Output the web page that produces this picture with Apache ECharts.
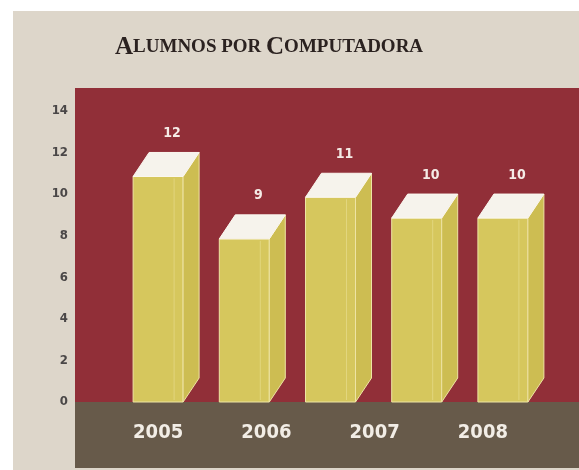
<!DOCTYPE html>
<html>
<head>
<meta charset="utf-8">
<script src="https://cdn.jsdelivr.net/npm/echarts@6/dist/echarts.min.js"></script>
<style>
  html, body { margin: 0; padding: 0; background: #ffffff; }
  #ech { width: 579px; height: 470px; }
</style>
</head>
<body>
<div id="ech"></div>
<script>
var yearLabels = ['2005', '2006', '2007', '2008'];
var values = [12, 9, 11, 10, 10];
var yTicks = [0, 2, 4, 6, 8, 10, 12, 14];

var myChart = echarts.init(document.getElementById('ech'));

var W = 50, DX = 16, DY = 24;
var narrow = '"DejaVu Sans Condensed", "Liberation Sans Narrow", sans-serif';

function renderBar(params, api) {
    var idx = api.value(0);
    var v = api.value(1);
    var base = api.coord([idx, 0]);
    var back = api.coord([idx, v]);
    var x1 = base[0] - W / 2, x2 = base[0] + W / 2;
    var yb = base[1];
    var yf = back[1] + DY;
    return {
        type: 'group',
        children: [
            {
                type: 'rect',
                shape: { x: x1, y: yf, width: W, height: yb - yf },
                style: { fill: '#d6c75d', stroke: '#eee4a4', lineWidth: 1 }
            },
            {
                type: 'line',
                shape: { x1: x2 - 9, y1: yf + 2, x2: x2 - 9, y2: yb - 2 },
                style: { stroke: '#e2d67e', lineWidth: 1 }
            },
            {
                type: 'polygon',
                shape: { points: [[x2, yb], [x2, yf], [x2 + DX, yf - DY], [x2 + DX, yb - DY]] },
                style: { fill: '#cdbd52', stroke: '#eee4a4', lineWidth: 1 }
            },
            {
                type: 'polygon',
                shape: { points: [[x1, yf], [x1 + DX, yf - DY], [x2 + DX, yf - DY], [x2, yf]] },
                style: { fill: '#f6f3ec', stroke: '#fbf8f0', lineWidth: 1 }
            },
            {
                type: 'text',
                style: {
                    x: base[0] + DX - 2, y: back[1] - 19,
                    text: String(v),
                    fill: '#f5ebe6',
                    font: 'bold 14px ' + narrow,
                    align: 'center', verticalAlign: 'middle'
                }
            }
        ]
    };
}

var option = {
    animation: false,
    backgroundColor: '#ffffff',
    graphic: [
        { type: 'rect', z: -10, shape: { x: 13, y: 11, width: 566, height: 459 }, style: { fill: '#ddd6ca' } },
        { type: 'rect', z: -9, shape: { x: 75, y: 88, width: 504, height: 314 }, style: { fill: '#912f38' } },
        { type: 'rect', z: -9, shape: { x: 75, y: 402, width: 504, height: 66 }, style: { fill: '#675a4a' } },
        {
            type: 'text', z: 10, left: 115, top: 35,
            style: {
                text: '{b|A}{s|LUMNOS POR }{b|C}{s|OMPUTADORA}',
                rich: {
                    b: { fontFamily: '"Liberation Serif", "DejaVu Serif", serif', fontWeight: 'bold', fontSize: 25, fill: '#2b2220' },
                    s: { fontFamily: '"Liberation Serif", "DejaVu Serif", serif', fontWeight: 'bold', fontSize: 19, fill: '#2b2220' }
                }
            }
        }
    ],
    grid: [
        { left: 115, right: 33, top: 88, bottom: 68 },
        { left: 104, right: 42, top: 88, bottom: 68 }
    ],
    xAxis: [
        {
            type: 'category', gridIndex: 0,
            data: values.map(function (v, i) { return i; }),
            show: false
        },
        {
            type: 'category', gridIndex: 1,
            data: yearLabels,
            axisLine: { show: false },
            axisTick: { show: false },
            axisLabel: {
                margin: 31,
                verticalAlign: 'middle',
                color: '#f2ede6',
                fontFamily: narrow,
                fontWeight: 'bold',
                fontSize: 20
            }
        }
    ],
    yAxis: [
        {
            type: 'value', gridIndex: 0,
            min: yTicks[0], max: 15.1, interval: 2,
            axisLine: { show: false },
            axisTick: { show: false },
            splitLine: { show: false },
            axisLabel: {
                showMaxLabel: false,
                margin: 47,
                color: '#4a4747',
                fontFamily: narrow,
                fontWeight: 'bold',
                fontSize: 13
            }
        },
        {
            type: 'value', gridIndex: 1, show: false, min: 0, max: 15.1
        }
    ],
    series: [
        {
            type: 'custom',
            xAxisIndex: 0, yAxisIndex: 0,
            renderItem: renderBar,
            data: values.map(function (v, i) { return [i, v]; })
        }
    ]
};
myChart.setOption(option);
</script>
</body>
</html>
